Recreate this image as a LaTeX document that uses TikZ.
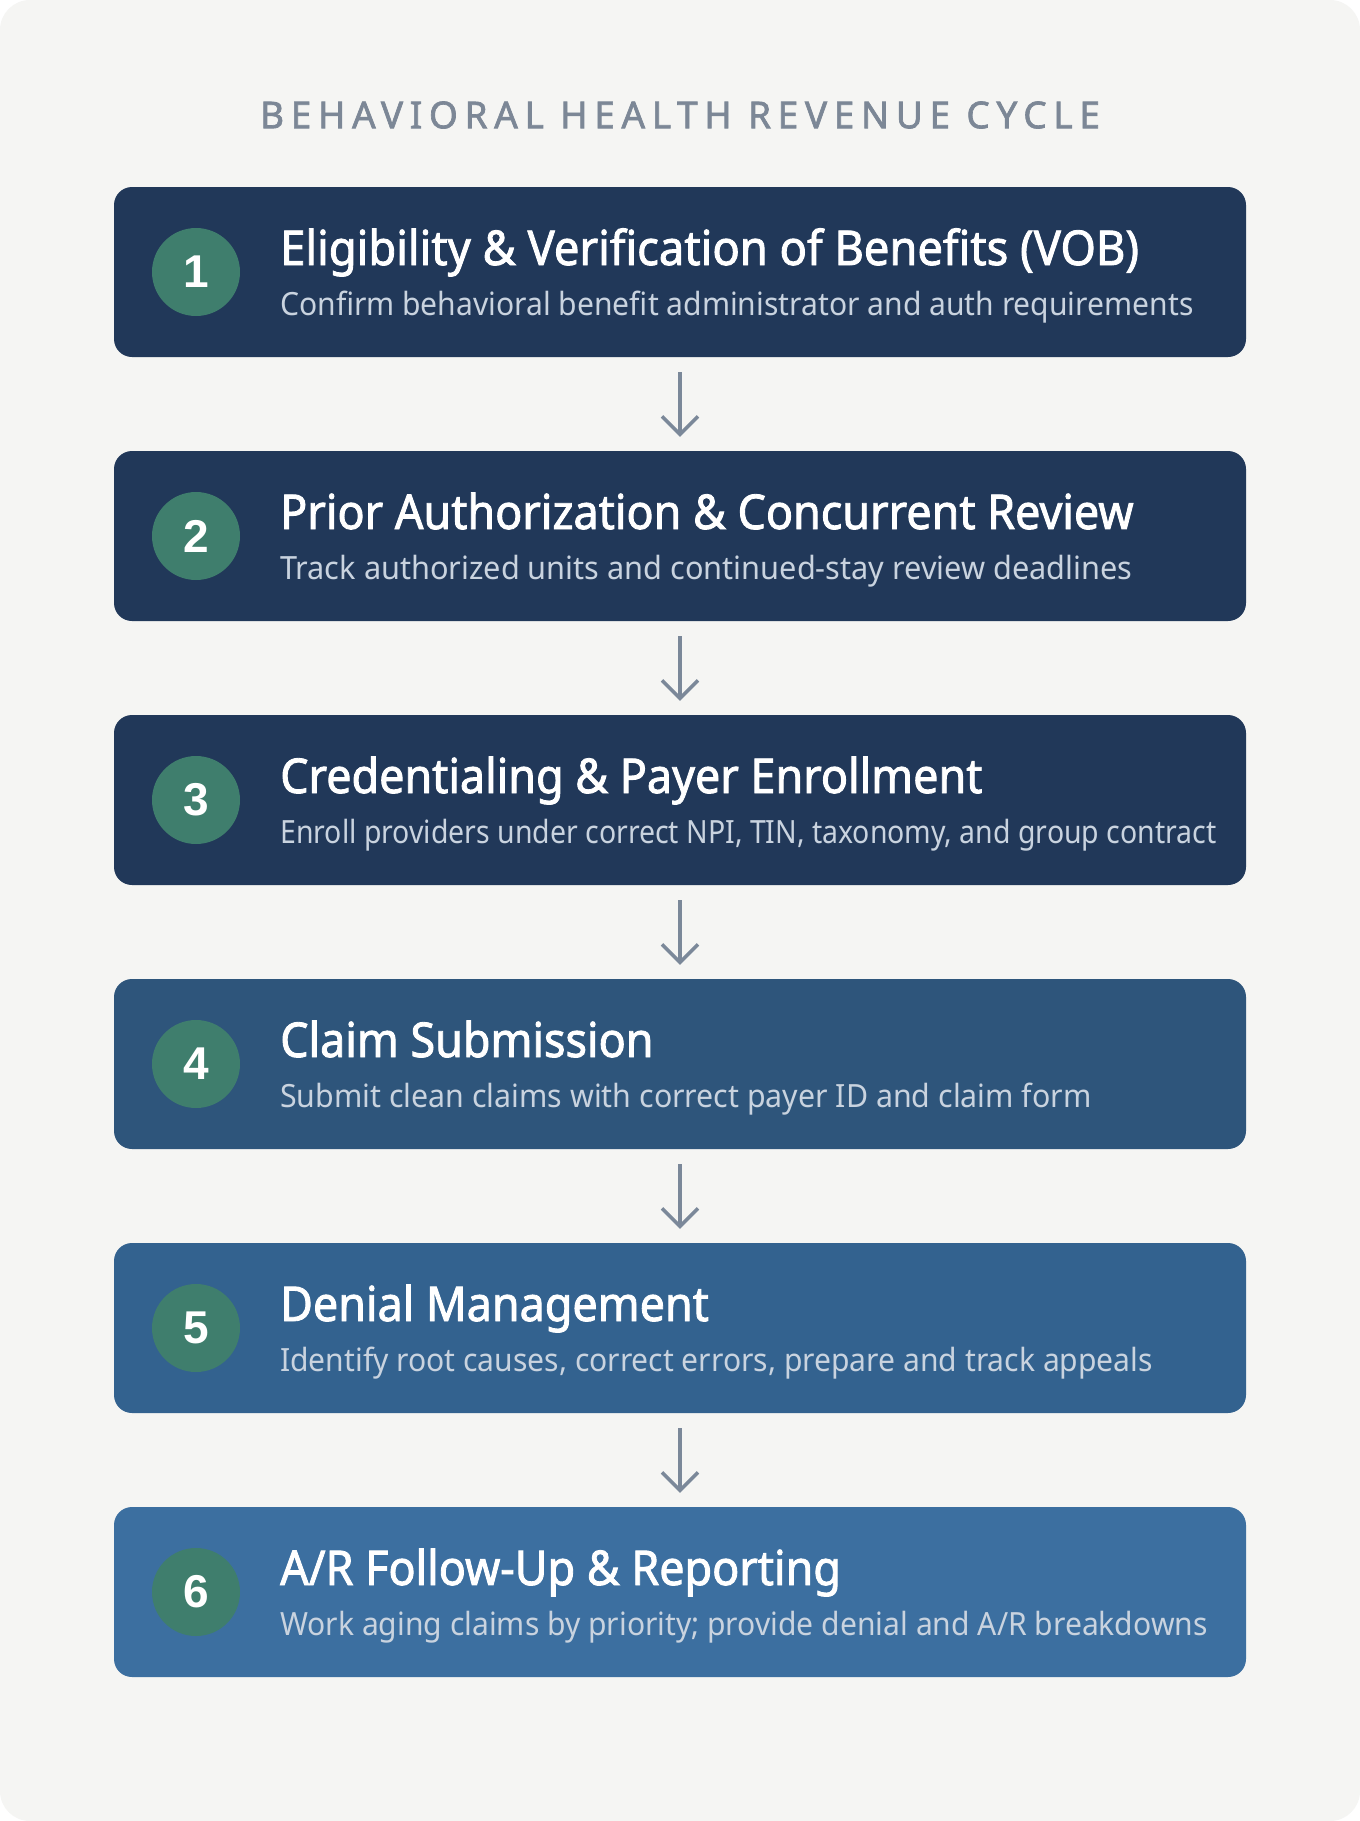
\documentclass[tikz,border=0pt]{standalone}
\usepackage{fontspec}
\usepackage{graphicx}
\setmainfont{Noto Sans}
\newfontfamily\titlefont[LetterSpace=18,FakeBold=1.8]{Noto Sans}
\newfontfamily\headfont[FakeStretch=0.935,FakeBold=1.8]{Noto Sans}
\newfontfamily\subfont[FakeStretch=0.94]{Noto Sans}
\newfontfamily\badgefont{Liberation Sans}
\usetikzlibrary{arrows.meta}
\definecolor{pagebg}{HTML}{F5F5F3}
\definecolor{titlegray}{HTML}{7C8796}
\definecolor{navyA}{HTML}{213859}
\definecolor{navyB}{HTML}{2E557B}
\definecolor{navyC}{HTML}{33628F}
\definecolor{navyD}{HTML}{3C6FA0}
\definecolor{badge}{HTML}{3F7E6D}
\definecolor{subtext}{HTML}{C9D3DF}
\definecolor{arrowgray}{HTML}{7B8899}
\begin{document}
\begin{tikzpicture}[x=1pt,y=-1pt,
  stepbox/.style={rectangle, rounded corners=18pt, minimum width=1132pt, minimum height=170pt, inner sep=0pt},
  numbadge/.style={circle, fill=badge, minimum size=88pt, inner sep=0pt, text=white, font=\badgefont\bfseries\fontsize{46}{46}\selectfont},
  headtext/.style={anchor=base west, inner sep=0pt, text=white, font=\headfont\fontsize{48}{48}\selectfont},
  subtextstyle/.style={anchor=base west, inner sep=0pt, text=subtext, font=\subfont\fontsize{32}{32}\selectfont},
  flowarrow/.style={draw=arrowgray, line width=3.5pt, -{Straight Barb[length=18pt,width=36pt,line width=3.5pt]}}
]
\useasboundingbox (0,0) rectangle (1360,1821);
\fill[white] (0,0) rectangle (1360,1821);
\fill[pagebg] (0,0) [rounded corners=30pt] rectangle (1360,1821);

\node[text=titlegray, font=\titlefont\fontsize{37}{37}\selectfont, inner sep=0pt] (title) at (680,115) {BEHAVIORAL HEALTH REVENUE CYCLE};

% boxes
\node[stepbox, fill=navyA] (b1) at (680,272) {};
\node[stepbox, fill=navyA] (b2) at (680,536) {};
\node[stepbox, fill=navyA] (b3) at (680,800) {};
\node[stepbox, fill=navyB] (b4) at (680,1064) {};
\node[stepbox, fill=navyC] (b5) at (680,1328) {};
\node[stepbox, fill=navyD] (b6) at (680,1592) {};

% badges
\node[numbadge] (n1) at (196,272) {1};
\node[numbadge] (n2) at (196,536) {2};
\node[numbadge] (n3) at (196,800) {3};
\node[numbadge] (n4) at (196,1064) {4};
\node[numbadge] (n5) at (196,1328) {5};
\node[numbadge] (n6) at (196,1592) {6};

% headings
\node[headtext] (h1) at (280,265) {\scalebox{1.01}[1]{Eligibility \& Verification of Benefits (VOB)}};
\node[headtext] (h2) at (280,529) {Prior Authorization \& Concurrent Review};
\node[headtext] (h3) at (280,793) {Credentialing \& Payer Enrollment};
\node[headtext] (h4) at (280,1057) {Claim Submission};
\node[headtext] (h5) at (280,1321) {Denial Management};
\node[headtext] (h6) at (280,1585) {A/R Follow-Up \& Reporting};

% subtitles
\node[subtextstyle] (s1) at (280,315) {Confirm behavioral benefit administrator and auth requirements};
\node[subtextstyle] (s2) at (280,579) {\scalebox{1.02}[1]{Track authorized units and continued-stay review deadlines}};
\node[subtextstyle] (s3) at (280,843) {\scalebox{0.946}[1]{Enroll providers under correct NPI, TIN, taxonomy, and group contract}};
\node[subtextstyle] (s4) at (280,1107) {\scalebox{1.008}[1]{Submit clean claims with correct payer ID and claim form}};
\node[subtextstyle] (s5) at (280,1371) {Identify root causes, correct errors, prepare and track appeals};
\node[subtextstyle] (s6) at (280,1635) {Work aging claims by priority; provide denial and A/R breakdowns};

% arrows
\foreach \a/\b in {b1/b2,b2/b3,b3/b4,b4/b5,b5/b6}{
  \draw[flowarrow] ([yshift=-15pt]\a.south) -- ([yshift=14pt]\b.north);
}
\end{tikzpicture}
\end{document}
